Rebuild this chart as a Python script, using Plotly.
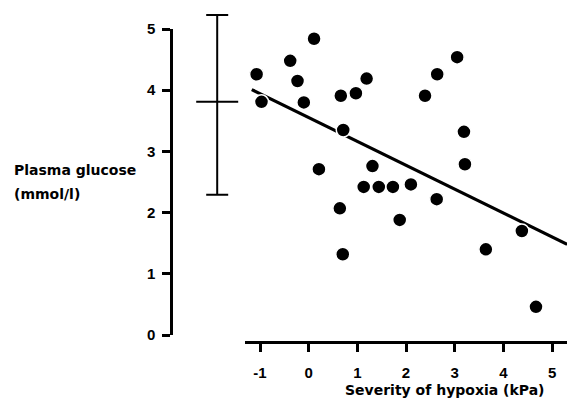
import plotly.graph_objects as go

# ---- data ----
hypoxia = [0.11, -0.38, -1.07, -0.23, 1.19, 2.64, 3.05, -0.97, -0.10, 0.66,
           0.97, 2.39, 0.71, 3.19, 0.21, 1.31, 3.21, 1.13, 1.44, 1.73,
           2.10, 2.63, 0.64, 1.87, 0.70, 3.64, 4.38, 4.67]
glucose = [4.84, 4.48, 4.26, 4.15, 4.19, 4.26, 4.54, 3.81, 3.80, 3.91,
           3.95, 3.91, 3.35, 3.32, 2.71, 2.76, 2.79, 2.42, 2.42, 2.42,
           2.46, 2.22, 2.07, 1.88, 1.32, 1.40, 1.70, 0.46]

# regression line y = a + b*x
reg_intercept = 3.554
reg_slope = -0.39
reg_x = [-1.17, 5.31]
reg_y = [reg_intercept + reg_slope * v for v in reg_x]

# control group mean and range (error bar at left)
ctrl_x = [-1.88]
ctrl_mean = [3.81]
ctrl_up = [1.42]
ctrl_down = [1.52]

x_ticks = [-1, 0, 1, 2, 3, 4, 5]
y_ticks = [0, 1, 2, 3, 4, 5]

# ---- geometry (pixels) ----
W, H = 567, 419
L, R, T, B = 171, 0, 10, 77
PW, PH = W - L - R, H - T - B
x0px, xppu = 308.7, 48.67     # pixel of x=0, px per unit
y0px, yppu = 335.0, 61.2      # pixel of y=0, px per unit


def px2x(p):
    return (p - x0px) / xppu


def py2y(p):
    return (y0px - p) / yppu


def fx(p):
    return (p - L) / PW


def fy(p):
    return (T + PH - p) / PH


fig = go.Figure()

fig.add_trace(go.Scatter(x=reg_x, y=reg_y, mode="lines",
                         line=dict(color="black", width=3.2),
                         hoverinfo="skip", cliponaxis=True))
fig.add_trace(go.Scatter(x=hypoxia, y=glucose, mode="markers",
                         marker=dict(color="black", size=14,
                                     line=dict(color="white", width=1.5)),
                         cliponaxis=False))
fig.add_trace(go.Scatter(x=ctrl_x, y=ctrl_mean, mode="markers",
                         xaxis="x2", yaxis="y2",
                         marker=dict(symbol="line-ew", size=30, color="black",
                                     line=dict(color="black", width=2)),
                         error_y=dict(type="data", symmetric=False,
                                      array=ctrl_up, arrayminus=ctrl_down,
                                      width=11, thickness=2, color="black"),
                         cliponaxis=False))

tickfont = dict(family="Liberation Sans", size=15, color="black", weight="bold")

fig.update_layout(
    width=W, height=H,
    margin=dict(l=L, r=R, t=T, b=B, pad=0),
    paper_bgcolor="white", plot_bgcolor="rgba(0,0,0,0)",
    showlegend=False,
    xaxis=dict(domain=[fx(245), 1], range=[px2x(245), px2x(W)],
               anchor="free", position=0,
               showline=True, linecolor="black", linewidth=3,
               showgrid=False, zeroline=False,
               tickmode="array", tickvals=x_ticks,
               ticktext=[str(v) for v in x_ticks],
               ticks="outside", ticklen=8, tickwidth=3, tickcolor="black",
               tickfont=tickfont, ticklabelstandoff=8),
    yaxis=dict(domain=[fy(y0px), fy(y0px - 5 * yppu)], range=[0, 5],
               anchor="free", position=0,
               showline=True, linecolor="black", linewidth=2.5,
               showgrid=False, zeroline=False,
               tickmode="array", tickvals=y_ticks,
               ticktext=[str(v) for v in y_ticks],
               ticks="outside", ticklen=8, tickwidth=2.5, tickcolor="black",
               tickfont=tickfont, ticklabelstandoff=4),
    xaxis2=dict(domain=[0, 1], range=[px2x(L), px2x(W)], anchor="y2",
                visible=False),
    yaxis2=dict(domain=[0, 1], range=[py2y(T + PH), py2y(T)], anchor="x2",
                visible=False),
)

titlefont = dict(family="DejaVu Sans", size=14, color="black", weight=600)
fig.add_annotation(text="Severity of hypoxia (kPa)", xref="paper", yref="paper",
                   x=fx(445), y=fy(390), xanchor="center", yanchor="middle",
                   showarrow=False, font=titlefont)
fig.add_annotation(text="Plasma glucose", xref="paper", yref="paper",
                   x=fx(12), y=fy(170), xanchor="left", yanchor="middle",
                   showarrow=False, font=titlefont)
fig.add_annotation(text="(mmol/l)", xref="paper", yref="paper",
                   x=fx(12), y=fy(194), xanchor="left", yanchor="middle",
                   showarrow=False, font=titlefont)

fig.write_html("out.html")
